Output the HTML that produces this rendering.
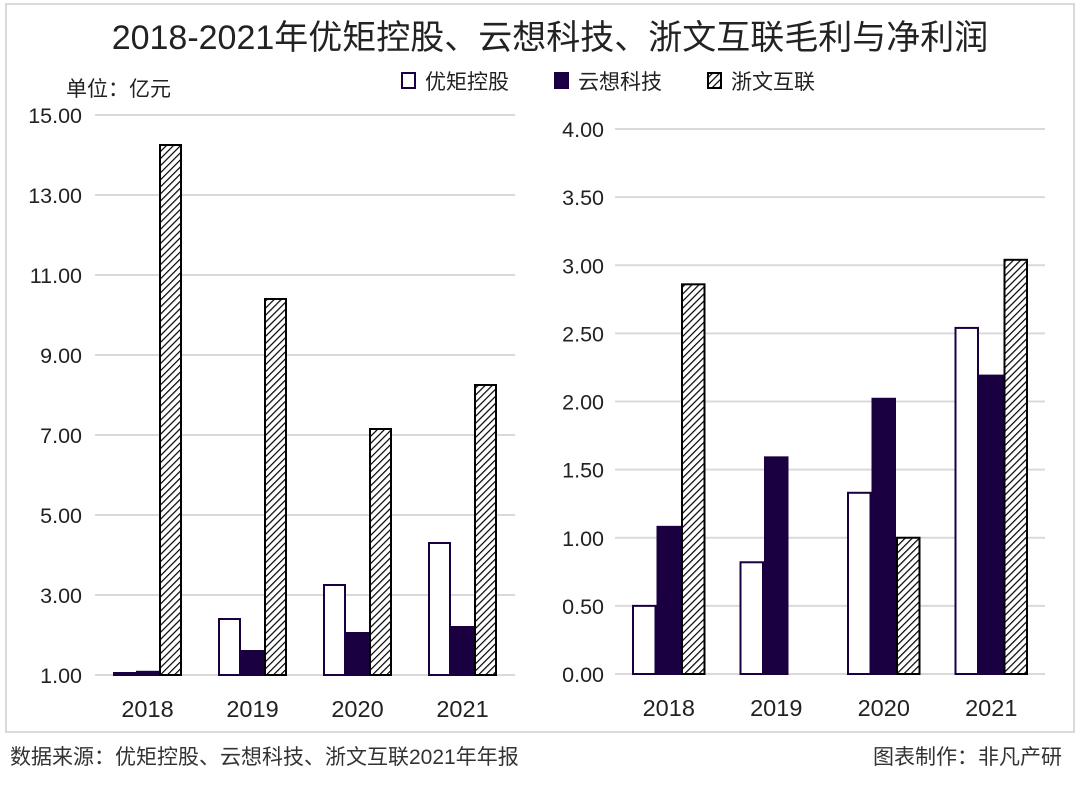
<!DOCTYPE html>
<html><head><meta charset="utf-8"><style>
body{margin:0;background:#fff;}
svg text{font-family:"Liberation Sans","Noto Sans CJK SC",sans-serif;}
</style></head><body>
<svg width="1080" height="780" xmlns="http://www.w3.org/2000/svg">
<defs><pattern id="hatch" patternUnits="userSpaceOnUse" width="5" height="5" patternTransform="rotate(45)"><rect width="5" height="5" fill="#fff"/><line x1="0" y1="0" x2="0" y2="5" stroke="#000" stroke-width="2.4"/></pattern></defs>
<rect x="6" y="4" width="1068" height="728" fill="none" stroke="#d9d9d9" stroke-width="2"/>
<text x="550" y="49" font-size="34" text-anchor="middle" fill="#222">2018-2021年优矩控股、云想科技、浙文互联毛利与净利润</text>
<text x="66" y="96" font-size="21" fill="#222">单位：亿元</text>
<g id="legend"></g>
<g id="left"></g>
<g id="right"></g>
<text x="10" y="764" font-size="21" fill="#333">数据来源：优矩控股、云想科技、浙文互联2021年年报</text>
<text x="1062" y="764" font-size="21" fill="#333" text-anchor="end">图表制作：非凡产研</text>
</svg>
<script>
const categories=["2018","2019","2020","2021"];
const seriesNames=["优矩控股","云想科技","浙文互联"];
const leftYouju=[1.05,2.4,3.25,4.3];
const leftYunxiang=[1.08,1.6,2.05,2.2];
const leftZhewen=[14.25,10.4,7.15,8.25];
const leftTicks=["1.00","3.00","5.00","7.00","9.00","11.00","13.00","15.00"];
const rightYouju=[0.5,0.82,1.33,2.54];
const rightYunxiang=[1.08,1.59,2.02,2.19];
const rightZhewen=[2.86,0,1.0,3.04];
const rightTicks=["0.00","0.50","1.00","1.50","2.00","2.50","3.00","3.50","4.00"];
const NS="http://www.w3.org/2000/svg";
const fills=["#fff","#1a0040","url(#hatch)"];
const strokes=["#1a0040","#1a0040","#000"];
function mk(tag,attrs,parent){const e=document.createElementNS(NS,tag);for(const k in attrs)e.setAttribute(k,attrs[k]);parent.appendChild(e);return e;}
function drawChart(g,x0,x1,yTop,yBot,min,max,ticks,series,bw,tickX){
  const y=v=>yBot-(v-min)/(max-min)*(yBot-yTop);
  ticks.forEach(t=>{const v=parseFloat(t);
    const l=mk("line",{x1:x0,x2:x1,y1:y(v),y2:y(v),stroke:"#d9d9d9","stroke-width":2},g);
    
    const tx=mk("text",{x:tickX,y:y(v)+8,"font-size":21.5,"text-anchor":"end",fill:"#222"},g);tx.textContent=t;
    });
  const cw=(x1-x0)/categories.length;
  categories.forEach((c,i)=>{const cx=x0+cw*(i+0.5);
    series.forEach((s,j)=>{const v=s[i];if(v<=min)return;
      const bx=cx-1.5*bw+j*bw;
      const r=mk("rect",{x:bx+1,y:y(v),width:bw-2,height:yBot-y(v),fill:fills[j],stroke:strokes[j],"stroke-width":2},g);
      });
    const t=mk("text",{x:cx,y:yBot+42,"font-size":23.5,"text-anchor":"middle",fill:"#222"},g);t.textContent=c;
    });
}
drawChart(document.getElementById("left"),95,515,115,675,1,15,leftTicks,[leftYouju,leftYunxiang,leftZhewen],23,82);
drawChart(document.getElementById("right"),615,1045,129,674,0,4,rightTicks,[rightYouju,rightYunxiang,rightZhewen],24.5,604);
const lg=document.getElementById("legend");
const lx=[402,555,708];
seriesNames.forEach((n,j)=>{
  const r=mk("rect",{x:lx[j],y:73,width:13,height:15,fill:fills[j],stroke:strokes[j],"stroke-width":2},lg);
  
  const t=mk("text",{x:lx[j]+23,y:89,"font-size":21,fill:"#222"},lg);t.textContent=n;
  });
</script>
</body></html>
